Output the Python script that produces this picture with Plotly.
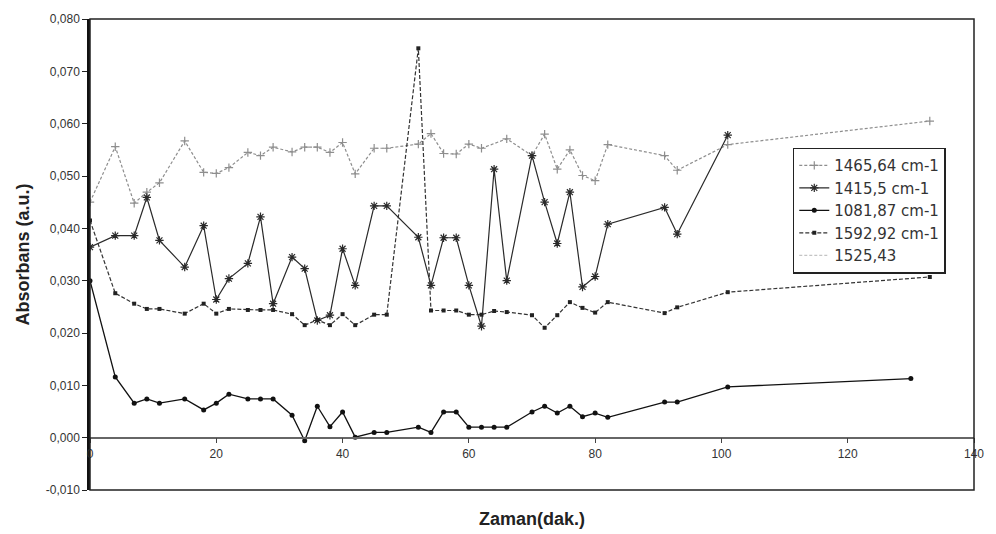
import plotly.graph_objects as go

# Sampling times (min)
t = [0, 4, 7, 9, 11, 15, 18, 20, 22, 25, 27, 29, 32, 34, 36, 38, 40, 42, 45, 47,
     52, 54, 56, 58, 60, 62, 64, 66, 70, 72, 74, 76, 78, 80, 82, 91, 93, 101]
t_long = t + [133]
t_d = t + [130]

# Absorbance per band
a_1465 = [0.0450, 0.0556, 0.0448, 0.0469, 0.0487, 0.0567, 0.0507, 0.0505, 0.0516, 0.0545,
          0.0539, 0.0555, 0.0546, 0.0555, 0.0555, 0.0545, 0.0564, 0.0504, 0.0553, 0.0553,
          0.0561, 0.0581, 0.0543, 0.0542, 0.0561, 0.0553, None, 0.0571, 0.0539, 0.0580,
          0.0513, 0.0550, 0.0501, 0.0491, 0.0560, 0.0539, 0.0511, 0.0560, 0.0605]
a_1415 = [0.0364, 0.0386, 0.0386, 0.0459, 0.0377, 0.0326, 0.0405, 0.0264, 0.0304, 0.0333,
          0.0422, 0.0256, 0.0345, 0.0323, 0.0224, 0.0234, 0.0361, 0.0291, 0.0443, 0.0443,
          0.0383, 0.0291, 0.0382, 0.0382, 0.0291, 0.0213, 0.0513, 0.0300, 0.0539, 0.0450,
          0.0371, 0.0469, 0.0288, 0.0308, 0.0408, 0.0440, 0.0389, 0.0578]
a_1081 = [0.0300, 0.0116, 0.0066, 0.0074, 0.0066, 0.0074, 0.0053, 0.0066, 0.0083, 0.0074,
          0.0074, 0.0074, 0.0043, -0.0006, 0.0060, 0.0021, 0.0049, 0.0001, 0.0010, 0.0010,
          0.0020, 0.0010, 0.0049, 0.0049, 0.0020, 0.0020, 0.0020, 0.0020, 0.0049, 0.0060,
          0.0047, 0.0060, 0.0040, 0.0047, 0.0039, 0.0068, 0.0068, 0.0097, 0.0113]
a_1592 = [0.0415, 0.0276, 0.0256, 0.0246, 0.0246, 0.0237, 0.0256, 0.0237, 0.0246, 0.0244,
          0.0244, 0.0244, 0.0236, 0.0215, 0.0225, 0.0215, 0.0236, 0.0215, 0.0235, 0.0235,
          0.0744, 0.0243, 0.0243, 0.0243, 0.0235, 0.0235, 0.0242, 0.0240, 0.0234, 0.0210,
          0.0234, 0.0259, 0.0248, 0.0239, 0.0259, 0.0238, 0.0249, 0.0278, 0.0307]
a_1525 = [0.0] * len(t_long)

y_ticks = [-0.01, 0.0, 0.01, 0.02, 0.03, 0.04, 0.05, 0.06, 0.07, 0.08]
y_ticktext = ["-0,010", "0,000", "0,010", "0,020", "0,030", "0,040", "0,050", "0,060", "0,070", "0,080"]
x_ticks = [0, 20, 40, 60, 80, 100, 120, 140]
x_ticktext = ["0", "20", "40", "60", "80", "100", "120", "140"]

fig = go.Figure()

fig.add_trace(go.Scatter(
    x=t_long, y=a_1465, name="1465,64 cm-1", mode="lines+markers", connectgaps=True,
    line=dict(color="#8e8e8e", width=1.2, dash="3px,2px"),
    marker=dict(symbol="cross-thin-open", size=6, line=dict(color="#6e6e6e", width=1.2))))
fig.add_trace(go.Scatter(
    x=t, y=a_1415, name="1415,5 cm-1", mode="lines+markers",
    line=dict(color="#2a2a2a", width=1.2),
    marker=dict(symbol="asterisk-open", size=7, line=dict(color="#1a1a1a", width=1.2))))
fig.add_trace(go.Scatter(
    x=t_d, y=a_1081, name="1081,87 cm-1", mode="lines+markers",
    line=dict(color="#111111", width=1.3),
    marker=dict(symbol="circle", size=5, color="#111111")))
fig.add_trace(go.Scatter(
    x=t_long, y=a_1592, name="1592,92 cm-1", mode="lines+markers",
    line=dict(color="#333333", width=1.2, dash="4px,2px"),
    marker=dict(symbol="square", size=4, color="#222222")))
fig.add_trace(go.Scatter(
    x=t_long, y=a_1525, name="1525,43", mode="lines",
    line=dict(color="#c4c4c4", width=1.2, dash="3px,2px")))

font_family = "Liberation Sans, Arial, sans-serif"

fig.update_layout(
    width=996, height=534,
    margin=dict(l=90, r=12, t=18, b=44),
    paper_bgcolor="white", plot_bgcolor="white",
    font=dict(family=font_family, color="#333333"),
    showlegend=True,
    legend=dict(x=0.795, y=0.727, xanchor="left", yanchor="top",
                bgcolor="white", bordercolor="#222222", borderwidth=1.5,
                font=dict(size=15, color="#333333", family="DejaVu Sans, sans-serif"),
                itemwidth=30, traceorder="normal"),
    xaxis=dict(range=[0, 140], tickvals=x_ticks, ticktext=x_ticktext,
               showgrid=False, zeroline=False, showline=True,
               linecolor="#666666", linewidth=1.5,
               ticks="outside", ticklen=5, tickcolor="#444444",
               tickfont=dict(size=12, color="#333333"),
               anchor="free", position=0.1111),
    yaxis=dict(range=[-0.01, 0.08], tickvals=y_ticks, ticktext=y_ticktext,
               showgrid=False, zeroline=False, showline=True,
               linecolor="#111111", linewidth=2.5,
               ticks="outside", ticklen=5, tickcolor="#222222",
               tickfont=dict(size=12, color="#333333")),
    shapes=[dict(type="rect", xref="paper", yref="paper", x0=0, x1=1, y0=0, y1=1,
                 line=dict(color="#222222", width=1.5), fillcolor="rgba(0,0,0,0)")],
    annotations=[
        dict(text="<b>Absorbans (a.u.)</b>", xref="paper", yref="paper",
             x=0, y=0.5, xshift=-68, textangle=-90, showarrow=False,
             xanchor="center", yanchor="middle",
             font=dict(size=18, color="#222222")),
        dict(text="<b>Zaman(dak.)</b>", xref="paper", yref="paper",
             x=0.5, y=0, yshift=-29, showarrow=False,
             xanchor="center", yanchor="middle",
             font=dict(size=18, color="#222222")),
    ],
)

fig.write_html("out.html")
